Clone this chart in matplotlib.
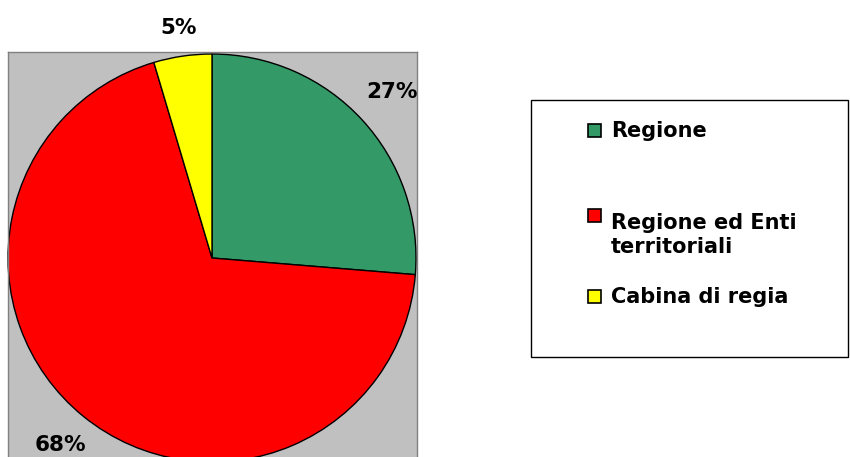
import numpy as np
import matplotlib
matplotlib.use('Agg')
import matplotlib.pyplot as plt
from matplotlib.patches import Rectangle

plt.rcParams['font.family'] = ['DejaVu Sans']

labels = ['Regione', 'Regione ed Enti\nterritoriali', 'Cabina di regia']
shares = [26.3, 69.1, 4.6]
pct_labels = ['27%', '68%', '5%']
colors = ['#339966', '#FF0000', '#FFFF00']

W, H = 850, 457
fig = plt.figure(figsize=(W / 100, H / 100), dpi=100)

# plot area in pixel units (y measured up from bottom of the figure)
cx, cy, r = 212, 199, 204
ax = fig.add_axes([8 / W, -13 / H, 409 / W, 418 / H])
wedges, _ = ax.pie(shares, colors=colors, startangle=90, counterclock=False,
                   center=(cx, cy), radius=r, frame=True,
                   wedgeprops=dict(edgecolor='black', linewidth=1))
ax.set_xlim(8, 417)
ax.set_ylim(-13, 405)
ax.set_aspect('auto')
ax.set_facecolor('#C0C0C0')
ax.set_xticks([])
ax.set_yticks([])
for s in ax.spines.values():
    s.set_color('#808080')
    s.set_linewidth(1)

# percentage labels outside the slices
dist = [1.2, 1.18, 1.14]
for w, txt, d in zip(wedges, pct_labels, dist):
    ang = np.deg2rad((w.theta1 + w.theta2) / 2)
    x = cx + d * r * np.cos(ang)
    y = cy + d * r * np.sin(ang)
    ax.text(x, y, txt, ha='center', va='center', fontsize=15.5,
            fontweight='bold', clip_on=False)

# legend box drawn by hand
fig.patches.append(Rectangle((531 / W, (H - 357) / H), (848 - 531) / W, 257 / H,
                             transform=fig.transFigure, facecolor='white',
                             edgecolor='black', linewidth=1))
baselines = [137, 222, 303]
line_step = 31
for lab, c, yb in zip(labels, colors, baselines):
    fig.patches.append(Rectangle((588 / W, (H - yb) / H), 13 / W, 13 / H,
                                 transform=fig.transFigure, facecolor=c,
                                 edgecolor='black', linewidth=1.2))
    # baseline alignment goes to the last line, so shift down for wrapped labels
    y_last = yb + lab.count('\n') * line_step
    fig.text(611 / W, (H - y_last) / H, lab, ha='left', va='baseline',
             fontsize=15, fontweight='bold', linespacing=1.25)

fig.savefig('out.png', dpi=100)
